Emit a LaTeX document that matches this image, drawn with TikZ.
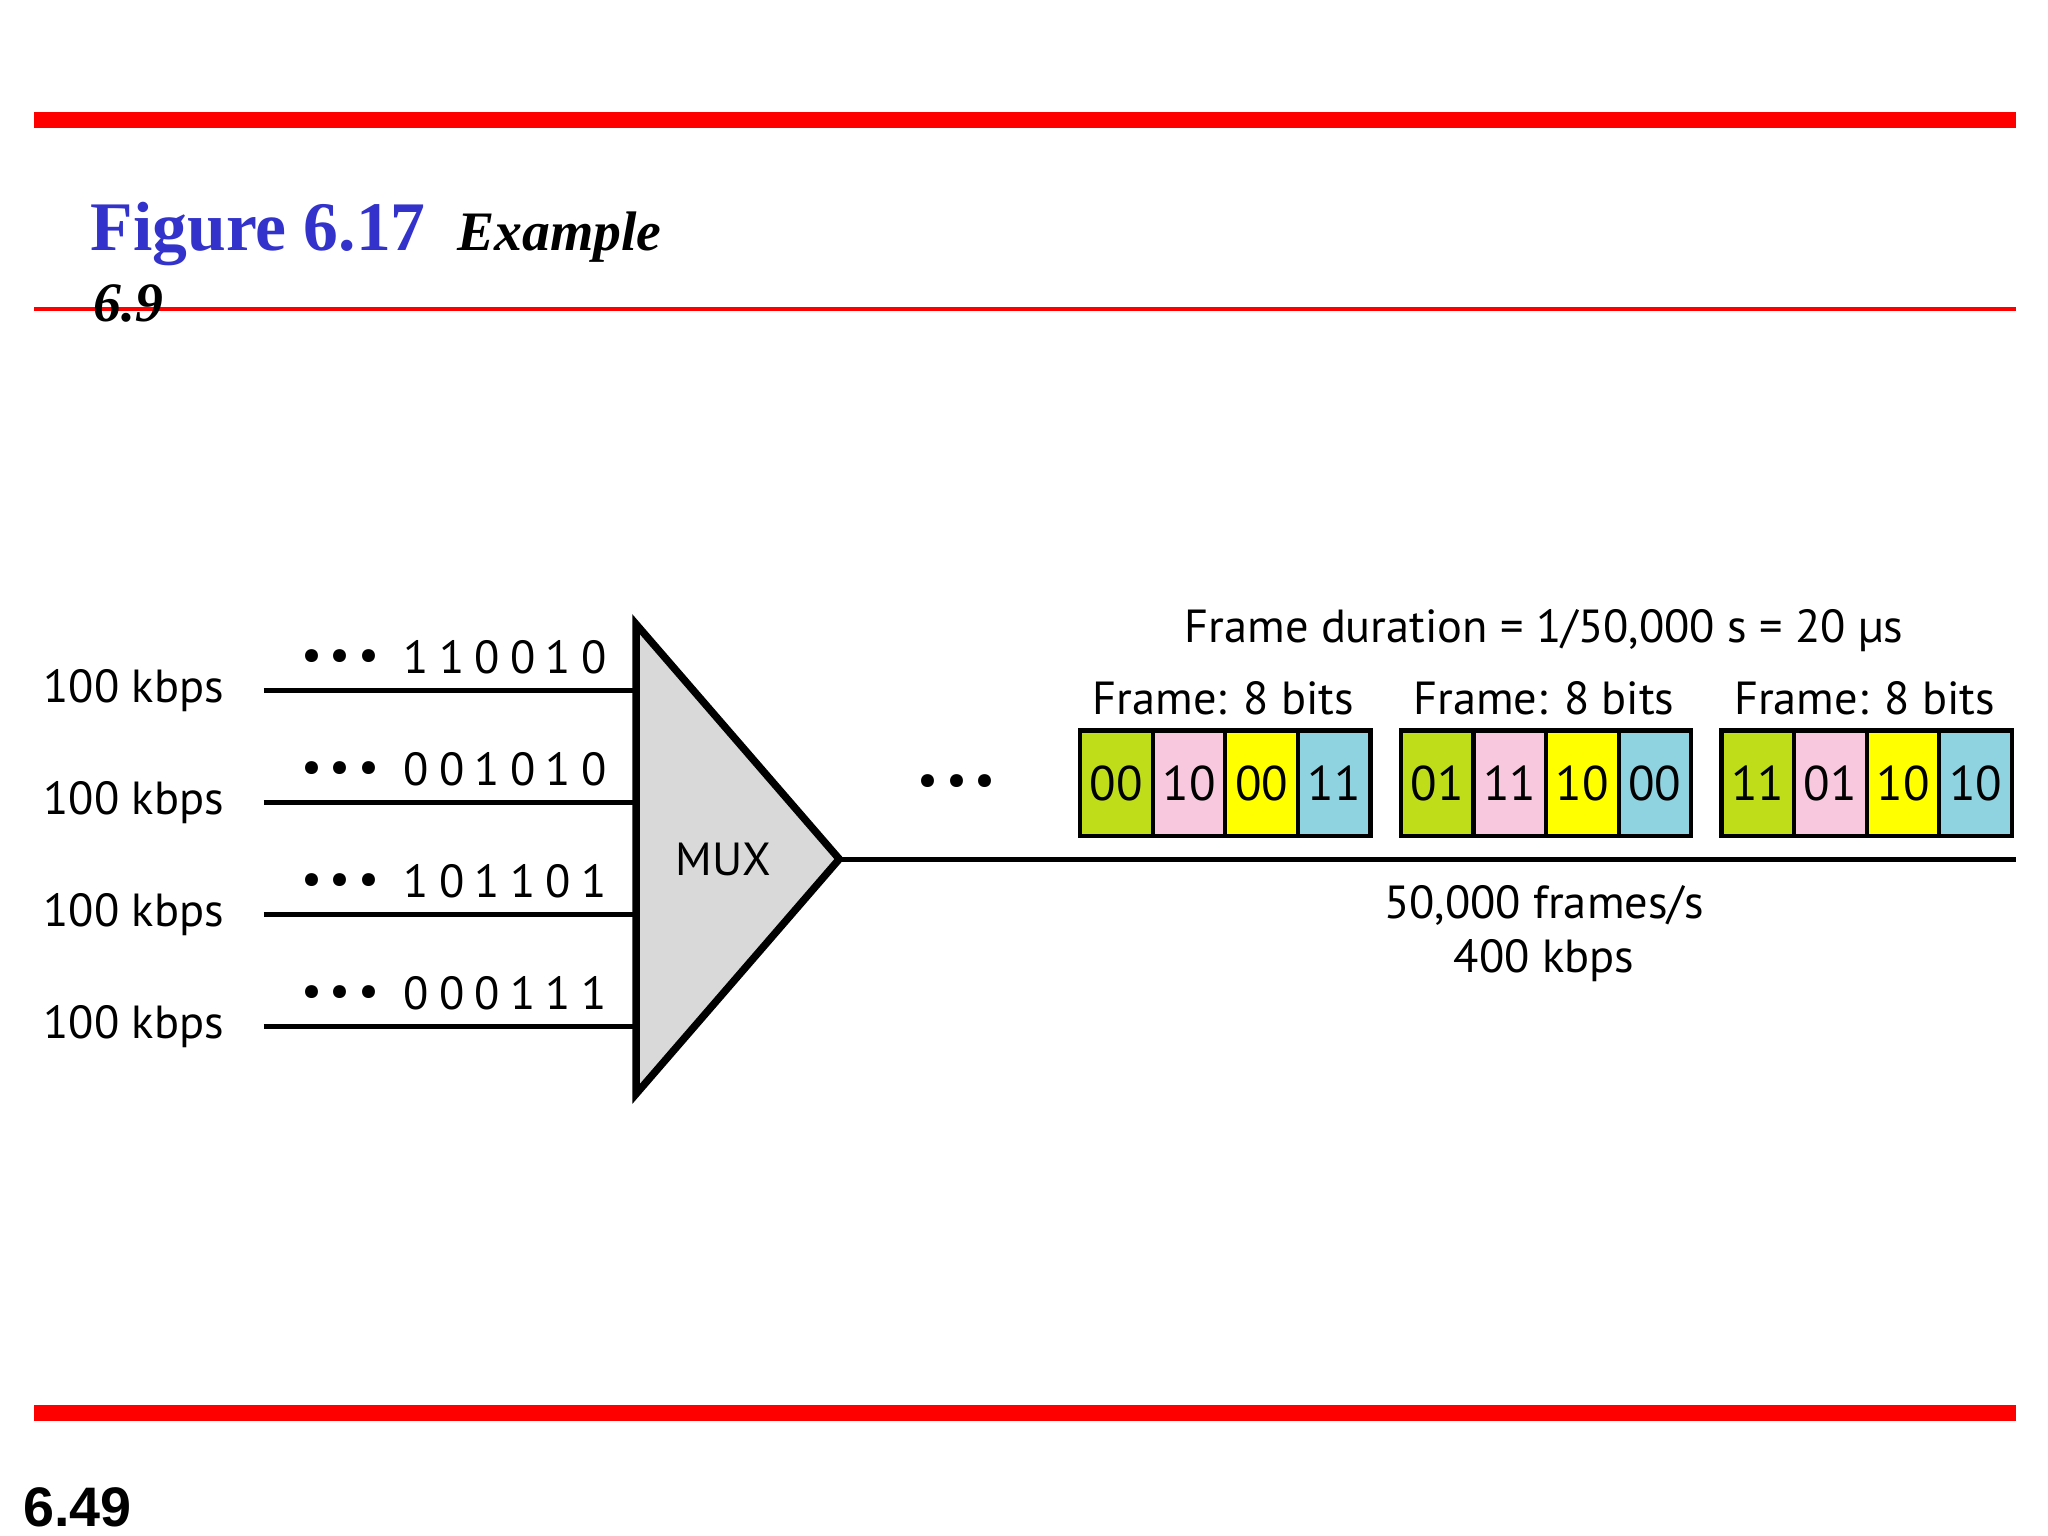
\documentclass[tikz,border=0pt]{standalone}
\usepackage{fontspec}
\setmainfont{PT Sans}
\newfontfamily\serifx{Liberation Serif}
\newfontfamily\sansx{Liberation Sans}
\definecolor{redl}{RGB}{255,0,0}
\definecolor{titleblue}{RGB}{51,51,204}
\definecolor{cg}{RGB}{192,221,26}
\definecolor{cp}{RGB}{247,200,222}
\definecolor{cy}{RGB}{255,255,0}
\definecolor{cb}{RGB}{143,211,224}
\definecolor{muxg}{RGB}{217,217,217}
\begin{document}
\begin{tikzpicture}[x=0.01cm,y=-0.01cm,
  lbl/.style={font=\fontsize{10}{12}\selectfont},
  bits/.style={font=\fontsize{10}{12}\selectfont\addfontfeature{LetterSpace=22}},
  dots/.style={font=\fontsize{10}{12}\selectfont},
  wire/.style={line width=1.1pt},
  cell/.style={draw,line width=0.9pt,minimum width=0.55cm,minimum height=0.8cm,inner sep=0pt,anchor=north west,font=\fontsize{10.5}{12}\selectfont}]
\useasboundingbox (0,0) rectangle (1552,1164);
% rules
\draw[redl,line width=3.4pt] (26,91) -- (1528,91);
\draw[redl,line width=0.9pt] (26,234) -- (1528,234);
\draw[redl,line width=3.4pt] (26,1071) -- (1528,1071);
\node[anchor=base west,inner sep=0,text=titleblue,font=\serifx\bfseries\fontsize{15}{16}\selectfont] (t1) at (68,190) {Figure 6.17};
\node[anchor=base west,inner sep=0,font=\serifx\bfseries\itshape\fontsize{12}{13}\selectfont] (t2) at (346,190) {Example};
\node[anchor=base west,inner sep=0,font=\serifx\bfseries\itshape\fontsize{12}{13}\selectfont] (t3) at (70,244) {6.9};
\node[anchor=base west,inner sep=0,font=\sansx\bfseries\fontsize{12}{13}\selectfont] (pg) at (17,1157) {6.49};
% MUX
\coordinate (ta) at (482,473);
\coordinate (tb) at (482,829);
\coordinate (tc) at (636,651);
\draw[fill=muxg,line width=1.6pt,line join=miter] (ta) -- (tc) -- (tb) -- cycle;
\node[lbl] (mux) at (548,651) {MUX};
% inputs
\foreach \i/\y/\b in {1/523/110010,2/608/001010,3/693/101101,4/778/000111}{
  \coordinate (s\i) at (200,\y);
  \coordinate (e\i) at (482,\y);
  \draw[wire] (s\i) -- (e\i);
  \node[lbl,anchor=east] (l\i) at (182,\y) {100 kbps};
  \node[dots] (d\i) at (258,\y-23) {\textbullet\,\textbullet\,\textbullet};
  \node[bits,anchor=east] (b\i) at (472,\y-25) {\b};
}
% output
\coordinate (oend) at (1528,651);
\draw[wire] (tc) -- (oend);
\node[dots] (od) at (725,595) {\textbullet\,\textbullet\,\textbullet};
\foreach \f/\x/\a/\bb/\c/\d in {1/817/00/10/00/11,2/1060/01/11/10/00,3/1303/11/01/10/10}{
  \node[cell,fill=cg] (f\f a) at (\x,552) {\a};
  \node[cell,fill=cp] (f\f b) at (\x+55,552) {\bb};
  \node[cell,fill=cy] (f\f c) at (\x+110,552) {\c};
  \node[cell,fill=cb] (f\f d) at (\x+165,552) {\d};
  \node[lbl] (fl\f) at (\x+110,529) {Frame: 8 bits};
}
\node[lbl] (fd) at (1170,478) {Frame duration = 1/50,000 s = 20 μs};
\node[lbl] (fr) at (1170,686) {50,000 frames/s};
\node[lbl] (kb) at (1170,728) {400 kbps};
\end{tikzpicture}
\end{document}
